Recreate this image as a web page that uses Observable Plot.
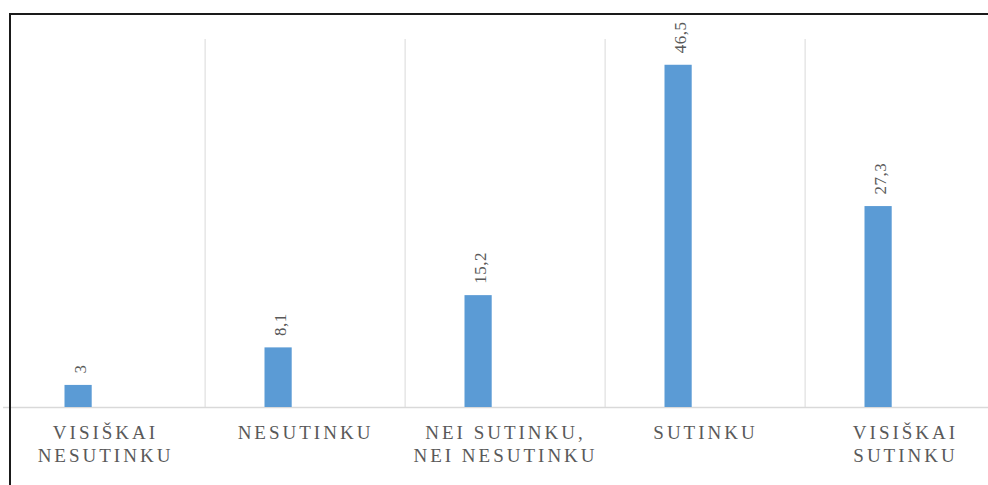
<!DOCTYPE html>
<html>
<head>
<meta charset="utf-8">
<script src="https://cdn.jsdelivr.net/npm/d3@7"></script>
<script src="https://cdn.jsdelivr.net/npm/@observablehq/plot@0.6"></script>
<style>
  html, body { margin: 0; padding: 0; background: #fff; }
  #wrap { position: relative; width: 988px; height: 485px; overflow: hidden; }
  #frame { position: absolute; left: 9px; top: 13px; width: 1200px; height: 1200px;
           border-top: 2px solid #1a1a1a; border-left: 2px solid #1a1a1a; box-sizing: border-box; pointer-events: none; }
  .cat text { letter-spacing: 3px; font-family: "Liberation Serif", "DejaVu Serif", serif; }
  .val text { letter-spacing: 0.5px; font-family: "Liberation Serif", "DejaVu Serif", serif; }
</style>
</head>
<body>
<div id="wrap"><div id="frame"></div></div>
<script>
const categories = ["VISIŠKAI\nNESUTINKU", "NESUTINKU", "NEI SUTINKU,\nNEI NESUTINKU", "SUTINKU", "VISIŠKAI\nSUTINKU"];
const values = [3, 8.1, 15.2, 46.5, 27.3];
const labels = ["3", "8,1", "15,2", "46,5", "27,3"];

const data = categories.map((c, i) => ({cat: c, value: values[i], label: labels[i]}));
const gridCats = categories.slice(1);

const bandStart = 3, bandEnd = 1007;
const bw = (bandEnd - bandStart) / categories.length;

const chart = Plot.plot({
  width: 988,
  height: 485,
  marginLeft: 3,
  marginRight: 0,
  marginTop: 39,
  marginBottom: 78,
  x: {domain: categories, range: [bandStart, bandEnd], padding: 0, axis: null},
  y: {domain: [0, 50], axis: null},
  marks: [
    Plot.ruleX(gridCats, {x: d => d, y1: 0, y2: 50, dx: -bw / 2, stroke: "#d9d9d9", strokeWidth: 1}),
    Plot.ruleY([0], {stroke: "#d9d9d9", strokeWidth: 1.5}),
    Plot.barY(data, {x: "cat", y: "value", fill: "#5b9bd5", insetLeft: 59.5, insetRight: bw - 87.5}),
    Plot.text(data, {x: "cat", y: "value", text: "label", rotate: -90, textAnchor: "start", lineAnchor: "middle",
      dx: -25, dy: -12, fill: "#595959", fontSize: 17, fontFamily: "Liberation Serif", className: "val"}),
    Plot.text(data, {x: "cat", y: 0, text: "cat", lineAnchor: "top", dy: 16, lineHeight: 1.18,
      fill: "#595959", fontSize: 19, fontFamily: "Liberation Serif", className: "cat"})
  ]
});
document.getElementById("wrap").insertBefore(chart, document.getElementById("frame"));
</script>
</body>
</html>
